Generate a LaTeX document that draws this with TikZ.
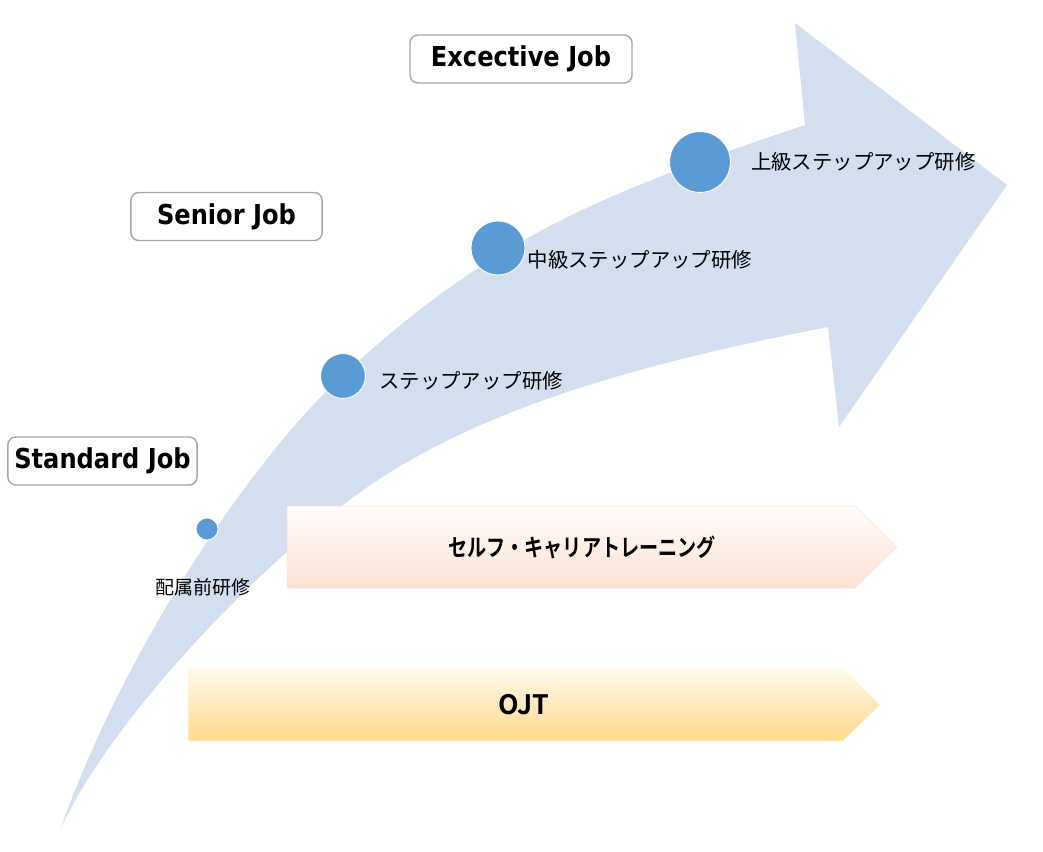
\documentclass[tikz,border=0pt]{standalone}
\usepackage{fontspec}
\usepackage{xcolor}
\usepackage{tikz}
\usetikzlibrary{
  positioning
}
\setmainfont{DejaVu Sans}
\newfontfamily\jobfont[FakeStretch=0.88]{DejaVu Sans}
\newfontfamily\jpfont[BoldFont={Noto Sans CJK JP Bold}]{Noto Sans CJK JP}
\newfontfamily\jpnarrow[FakeStretch=0.8,BoldFont={Noto Sans CJK JP Bold}]{Noto Sans CJK JP}
\definecolor{bandcolor}{HTML}{D3DEEF}
\definecolor{dotcolor}{HTML}{5B9BD5}
\definecolor{selftop}{HTML}{FFFCFA}
\definecolor{selfbot}{HTML}{FAE2D4}
\definecolor{ojttop}{HTML}{FFFAEE}
\definecolor{ojtbot}{HTML}{FFD88C}
\definecolor{boxline}{HTML}{A6A6A6}

\begin{document}
\begin{tikzpicture}[
  x=0.025cm, y=-0.025cm,
  jobbox/.style={draw=boxline, line width=1pt, rounded corners=0.2cm,
                 fill=white, minimum height=1.2cm, inner sep=0,
                 font=\jobfont\bfseries\fontsize{19.5}{20}\selectfont},
  dot/.style={circle, fill=dotcolor, draw=white, line width=0.6pt, inner sep=0},
  lbl/.style={font=\jpfont\fontsize{14.5}{16}\selectfont, inner sep=0},
  barlbl/.style={font=\jpnarrow\bfseries\fontsize{17}{18}\selectfont, inner sep=0},
]
  \useasboundingbox (0,0) rectangle (1043,851);

  % Curved arrow
  \fill[bandcolor]
    (60,830) .. controls (127,642) and (255,456) .. (343,375)
             .. controls (490,240) and (596,195) .. (805,125)
    -- (795,23) -- (1007,185) -- (839,427) -- (828,327)
             .. controls (632,365) and (461,413) .. (343,505)
             .. controls (248,578) and (110,721) .. (60,830)
    -- cycle;

  % Bars
  \shade[top color=selftop, bottom color=selfbot, draw=selfbot, line width=0.4pt]
    (287,506) -- (855,506) -- (897,547) -- (855,588) -- (287,588) -- cycle;
  \shade[top color=ojttop, bottom color=ojtbot, draw=ojttop, line width=0.4pt]
    (188,668) -- (843,668) -- (880,705) -- (843,741) -- (188,741) -- cycle;
  \node[barlbl] (self) at (582,547) {セルフ・キャリアトレーニング};
  \node[barlbl, font=\jpfont\bfseries\fontsize{19}{20}\selectfont] (ojt) at (524,705) {OJT};

  % Job levels
  \node[jobbox, minimum width=5.55cm] (exec) at (521,59) {Excective Job};
  \node[jobbox, minimum width=4.78cm] (senior) at (226.5,216.5) {Senior Job};
  \node[jobbox, minimum width=4.73cm] (standard) at (102.5,461) {Standard Job};

  % Training steps
  \node[dot, minimum size=0.55cm] (d0) at (207,529) {};
  \node[dot, minimum size=1.12cm] (d1) at (343,376) {};
  \node[dot, minimum size=1.35cm] (d2) at (498,248) {};
  \node[dot, minimum size=1.52cm] (d3) at (700,162) {};

  \node[lbl, below=0.95cm of d0, xshift=-0.1cm, font=\jpfont\fontsize{13.5}{15}\selectfont] (l0) {配属前研修};
  \node[lbl, right=0.33cm of d1, yshift=-0.12cm] (l1) {ステップアップ研修};
  \node[lbl, right=0.05cm of d2, yshift=-0.3cm] (l2) {中級ステップアップ研修};
  \node[lbl, right=0.5cm of d3] (l3) {上級ステップアップ研修};

\end{tikzpicture}
\end{document}
